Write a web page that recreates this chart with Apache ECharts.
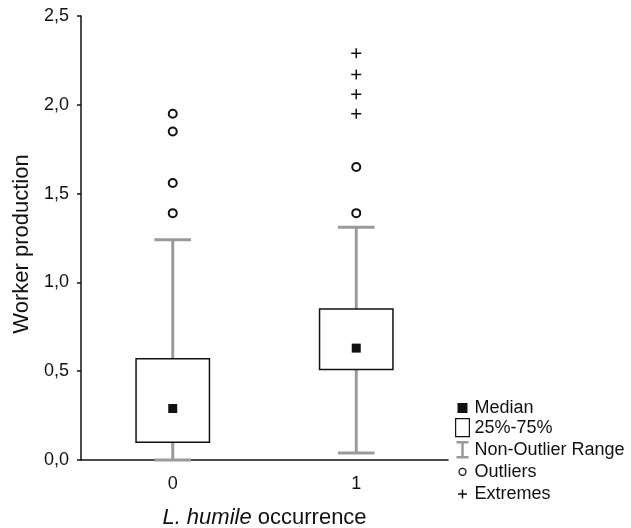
<!DOCTYPE html>
<html><head><meta charset="utf-8">
<script src="https://cdn.jsdelivr.net/npm/echarts@6/dist/echarts.min.js"></script>
<style>html,body{margin:0;padding:0;background:#fff}#c{width:631px;height:528px}</style>
</head><body><div id="c"></div>
<script>
// ---- data ----
const categories = ['0', '1'];
const whiskerLow  = [0.00, 0.04];
const q1          = [0.10, 0.51];
const median      = [0.29, 0.63];
const q3          = [0.57, 0.85];
const whiskerHigh = [1.24, 1.31];
const outliersCat0 = [1.39, 1.56, 1.85, 1.95];
const outliersCat1 = [1.39, 1.65];
const extremesCat1 = [1.95, 2.06, 2.17, 2.29];
const yTickValues = [0, 0.5, 1.0, 1.5, 2.0, 2.5];
const yTickLabels = ['0,0', '0,5', '1,0', '1,5', '2,0', '2,5'];

const FONT = 'Liberation Sans, Arial, sans-serif';
const GRAY = '#9a9a9a';
const INK = '#111';

const whiskerData = categories.map((c, i) => [i, whiskerLow[i], q1[i], q3[i], whiskerHigh[i]]);
const boxData = categories.map((c, i) => [i, q1[i], q3[i]]);
const medianData = categories.map((c, i) => [i, median[i]]);
const outlierData = outliersCat0.map(v => [0, v]).concat(outliersCat1.map(v => [1, v]));
const extremeData = extremesCat1.map(v => [1, v]);

function renderWhisker(params, api) {
  const x = api.value(0);
  const lo = api.coord([x, api.value(1)]);
  const b = api.coord([x, api.value(2)]);
  const t = api.coord([x, api.value(3)]);
  const hi = api.coord([x, api.value(4)]);
  const bw = api.size([1, 0])[0];
  const cap = bw * 0.2 / 2;
  const style = { stroke: GRAY, lineWidth: 3, fill: null };
  return { type: 'group', children: [
    { type: 'line', shape: { x1: lo[0], y1: lo[1], x2: b[0], y2: b[1] }, style },
    { type: 'line', shape: { x1: t[0], y1: t[1], x2: hi[0], y2: hi[1] }, style },
    { type: 'line', shape: { x1: lo[0] - cap, y1: lo[1], x2: lo[0] + cap, y2: lo[1] }, style },
    { type: 'line', shape: { x1: hi[0] - cap, y1: hi[1], x2: hi[0] + cap, y2: hi[1] }, style }
  ]};
}
function renderBox(params, api) {
  const x = api.value(0);
  const b = api.coord([x, api.value(1)]);
  const t = api.coord([x, api.value(2)]);
  const bw = api.size([1, 0])[0] * 0.4;
  return { type: 'rect', shape: { x: b[0] - bw / 2, y: t[1], width: bw, height: b[1] - t[1] },
    style: { fill: '#fff', stroke: INK, lineWidth: 1.5 } };
}

const chart = echarts.init(document.getElementById('c'));
chart.setOption({
  animation: false,
  backgroundColor: '#fff',
  grid: { left: 81, right: 183, top: 16, bottom: 68, outerBoundsMode: 'none', containLabel: false },
  xAxis: {
    type: 'category', data: categories,
    axisLine: { lineStyle: { color: INK, width: 1.5 } },
    axisTick: { alignWithLabel: true, length: 4, lineStyle: { color: INK, width: 1.5 } },
    axisLabel: { fontSize: 18, color: INK, fontFamily: FONT, margin: 15 },
    splitLine: { show: false },
    name: '{i|L. humile} occurrence', nameLocation: 'middle', nameGap: 47,
    nameTextStyle: { fontSize: 22, color: INK, fontFamily: FONT,
      rich: { i: { fontSize: 22, fontStyle: 'italic', color: INK, fontFamily: FONT } } }
  },
  yAxis: {
    type: 'value', min: 0, max: 2.5, interval: 0.5,
    axisLine: { show: true, lineStyle: { color: INK, width: 1.5 } },
    axisTick: { show: true, length: 4, lineStyle: { color: INK, width: 1.5 } },
    axisLabel: { fontSize: 18, color: INK, fontFamily: FONT, margin: 12,
      formatter: v => { const k = yTickValues.findIndex(t => Math.abs(t - v) < 1e-9); return k >= 0 ? yTickLabels[k] : ''; } },
    splitLine: { show: false },
    name: 'Worker production', nameLocation: 'middle', nameGap: 48, nameRotate: 90,
    nameTextStyle: { fontSize: 22, color: INK, fontFamily: FONT, padding: [0, 12, 0, 0] }
  },
  legend: {
    orient: 'vertical', left: 448, top: 394, itemWidth: 14, itemHeight: 18, itemGap: 1,
    padding: 5, selectedMode: false,
    textStyle: { fontSize: 18, color: INK, fontFamily: FONT },
    data: [
      { name: 'Median', icon: 'path://M0,0M14,18M2,4L12,4L12,14L2,14Z',
        itemStyle: { color: INK, borderWidth: 0 } },
      { name: '25%-75%', icon: 'path://M0.5,0.5L13.5,0.5L13.5,17.5L0.5,17.5Z',
        itemStyle: { color: '#fff', borderColor: INK, borderWidth: 1.2 } },
      { name: 'Non-Outlier Range', icon: 'path://M0,0M14,18M1,1.5L13,1.5M7,1.5L7,16.5M1,16.5L13,16.5',
        itemStyle: { color: 'none', borderColor: GRAY, borderWidth: 2.5 } },
      { name: 'Outliers', icon: 'path://M0,0M14,18M3.5,9A3.5,3.5,0,1,1,10.5,9A3.5,3.5,0,1,1,3.5,9Z',
        itemStyle: { color: '#fff', borderColor: INK, borderWidth: 1.3 } },
      { name: 'Extremes', icon: 'path://M0,0M14,18M2.5,9L11.5,9M7,4.5L7,13.5',
        itemStyle: { color: 'none', borderColor: INK, borderWidth: 1.5 } }
    ]
  },
  series: [
    { name: 'Non-Outlier Range', type: 'custom', renderItem: renderWhisker, data: whiskerData,
      itemStyle: { color: GRAY }, encode: { x: 0, y: [1, 2, 3, 4] }, z: 2 },
    { name: '25%-75%', type: 'custom', renderItem: renderBox, data: boxData,
      itemStyle: { color: '#fff', borderColor: INK }, encode: { x: 0, y: [1, 2] }, z: 3 },
    { name: 'Median', type: 'scatter', data: medianData, symbol: 'rect', symbolSize: 9,
      itemStyle: { color: INK, opacity: 1 }, z: 4 },
    { name: 'Outliers', type: 'scatter', data: outlierData, symbol: 'emptyCircle', symbolSize: 8,
      itemStyle: { color: INK, borderColor: INK, borderWidth: 1.5, opacity: 1 }, z: 4 },
    { name: 'Extremes', type: 'scatter', data: extremeData, symbol: 'path://M0,5L10,5M5,0L5,10', symbolSize: 10,
      itemStyle: { color: 'none', borderColor: INK, borderWidth: 1.5, opacity: 1 }, z: 4 }
  ]
});
</script></body></html>
